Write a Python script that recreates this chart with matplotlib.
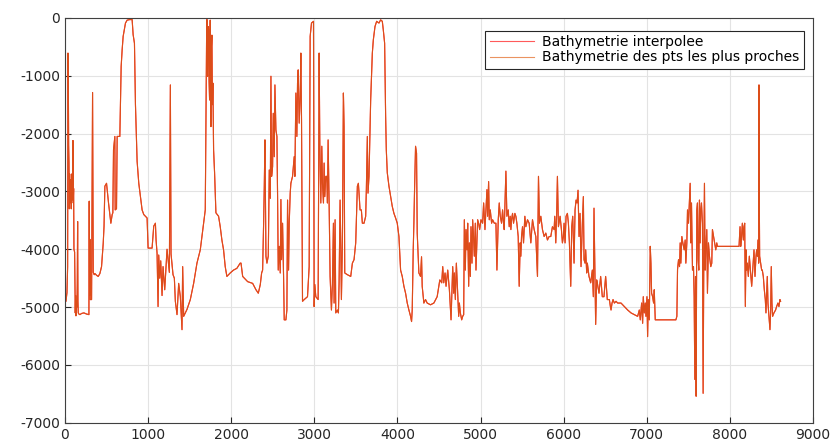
import numpy as np
import matplotlib.pyplot as plt

plt.rcParams['axes.unicode_minus'] = False

# distance le long du profil (km) et profondeur (m)
dist = [0, 12, 24, 32, 36, 40, 44, 48, 52, 56, 60, 64, 68, 72, 76, 80, 84, 88, 92, 96,
        100, 104, 108, 116, 124, 128, 132, 140, 144, 148, 152, 156, 160, 168, 180, 200, 228, 260, 288, 292,
        296, 300, 304, 320, 328, 332, 336, 340, 352, 360, 380, 400, 420, 440, 460, 470, 480, 500, 512, 524,
        540, 552, 568, 576, 584, 600, 604, 620, 628, 660, 676, 688, 700, 728, 748, 780, 808, 820, 836, 848,
        868, 888, 928, 948, 988, 1000, 1048, 1068, 1088, 1096, 1108, 1120, 1128, 1140, 1152, 1168, 1180, 1200, 1220, 1228,
        1256, 1268, 1276, 1300, 1316, 1328, 1348, 1368, 1388, 1408, 1416, 1428, 1448, 1468, 1508, 1548, 1588, 1628, 1688, 1700,
        1704, 1708, 1712, 1716, 1722, 1728, 1734, 1740, 1744, 1748, 1752, 1756, 1762, 1768, 1774, 1780, 1788, 1800, 1816, 1848,
        1868, 1888, 1908, 1928, 1948, 1988, 2028, 2068, 2108,
        2118, 2138, 2198, 2258, 2298, 2326, 2350, 2366, 2378, 2390, 2398, 2406, 2418, 2430, 2446, 2458, 2470, 2478, 2486, 2498,
        2506, 2518, 2526, 2538, 2550, 2558, 2566, 2578, 2590, 2598, 2606, 2618, 2630, 2638, 2658, 2670, 2678, 2690, 2698, 2710,
        2718, 2738, 2758, 2766, 2778, 2790, 2798, 2806, 2818, 2830, 2838, 2846, 2858, 2878, 2918, 2938, 2950, 2966, 2990, 2998,
        3006, 3018, 3046, 3058, 3066, 3078, 3090, 3098, 3110, 3118, 3126, 3138, 3150, 3158, 3166, 3178, 3190, 3206, 3218, 3230,
        3238, 3250, 3258, 3278, 3290, 3298, 3310, 3318, 3326, 3338, 3350, 3358, 3366, 3398, 3438, 3458, 3478, 3498, 3510, 3518,
        3530, 3538, 3550, 3566, 3578, 3598, 3618, 3626, 3638, 3646, 3658, 3666, 3678, 3690, 3698, 3710, 3730, 3750, 3778, 3798,
        3818, 3830, 3846, 3858, 3866, 3878, 3898, 3918, 3938, 3958, 3978, 3998, 4018, 4038, 4058, 4078, 4098, 4118, 4138, 4158,
        4170, 4178, 4190, 4198, 4206, 4218, 4230, 4238, 4258, 4278, 4290, 4298, 4310, 4318, 4338, 4358, 4398, 4438, 4478, 4510,
        4533, 4545, 4557, 4573, 4585, 4605, 4625, 4645, 4665, 4677, 4685, 4697, 4709, 4725, 4737, 4745, 4757, 4773, 4785, 4797,
        4805, 4817, 4825, 4837, 4845, 4857, 4865, 4877, 4885, 4897, 4905, 4917, 4925, 4937, 4945, 4957, 4965, 4977, 4989, 5005,
        5025, 5037, 5053, 5065, 5077, 5085, 5097, 5105, 5117, 5133, 5145, 5165, 5185, 5197, 5213, 5225, 5237, 5253, 5265, 5277,
        5285, 5305, 5317, 5333, 5345, 5357, 5365, 5373, 5385, 5397, 5413, 5425, 5437, 5453, 5465, 5477, 5485, 5493, 5505, 5517,
        5533, 5545, 5565, 5585, 5605, 5625, 5645, 5665, 5685, 5697, 5709, 5725, 5745, 5765, 5785, 5805, 5825, 5845, 5865, 5885,
        5893, 5905, 5917, 5925, 5937, 5957, 5973, 5985, 5997, 6005, 6017, 6029, 6045, 6057, 6069, 6085, 6097, 6109, 6125, 6137,
        6149, 6161, 6173, 6185, 6197, 6209, 6225, 6237, 6245, 6257, 6265, 6277, 6285, 6305, 6325, 6345, 6357, 6365, 6377, 6385,
        6397, 6405, 6425, 6445, 6465, 6485, 6505, 6525,
        6550, 6562, 6570, 6582, 6594, 6610, 6630, 6650, 6690, 6730, 6770, 6810, 6850, 6890, 6910, 6922, 6938, 6950, 6958, 6970,
        6982, 6990, 7002, 7010, 7018, 7030, 7042, 7050, 7058, 7070, 7082, 7090, 7102, 7350, 7362, 7370, 7382, 7394, 7402, 7410,
        7422, 7434, 7450, 7462, 7470, 7482, 7490, 7502, 7510, 7522, 7530, 7538, 7550, 7562, 7570, 7578, 7586, 7594, 7602, 7610,
        7618, 7626, 7634, 7642, 7650, 7658, 7670, 7678, 7686, 7694, 7702, 7710, 7722, 7730, 7742, 7754, 7770, 7782, 7790, 7810,
        7830, 7842, 7850, 8110, 8122, 8130, 8138, 8150, 8162, 8170, 8178, 8186, 8194, 8202, 8210, 8222, 8234, 8250, 8262, 8274,
        8290, 8302, 8314, 8322, 8330, 8338, 8346, 8350, 8354, 8358, 8370, 8382, 8390, 8402, 8414, 8426, 8434, 8442, 8450, 8458,
        8470, 8482, 8490, 8498, 8506, 8514, 8530, 8550, 8562, 8578, 8590, 8602, 8610]

depth = [-4620, -4900, -4750, -4300, -610, -930, -2200, -2500, -3300, -2700, -3200, -2800, -3100, -2900, -3300, -2700, -3150, -2900, -3000, -2120,
         -3200, -2950, -4000, -4050, -5100, -4800, -5150, -4900, -5000, -4600, -3520, -4900, -5100, -5120, -5130, -5110, -5100, -5120, -5130, -3170,
         -4800, -3830, -4870, -4870, -2680, -1290, -2680, -4400, -4440, -4420, -4450, -4470, -4420, -4300, -3900, -3600, -2910, -2860, -3030, -3200,
         -3400, -3550, -3400, -3370, -2280, -2050, -3320, -3300, -2050, -2050, -840, -550, -320, -90, -40, -30, -30, -290, -440, -1500,
         -2480, -2860, -3320, -3400, -3460, -3980, -3980, -3600, -3550, -3840, -4070, -4990, -4100, -4500, -4200, -4800, -4300, -4700, -4200, -4000,
         -4400, -1160, -4080, -4440, -4500, -4900, -5130, -4590, -4820, -5390, -4300, -5160, -5100, -5040, -4870, -4590, -4240, -4010, -3320, -1010,
         -300, -30, -900, -1010, -150, -200, -1100, -1420, -300, -40, -1200, -1880, -500, -300, -1500, -1130, -2280, -2680, -3370, -3430,
         -3610, -3840, -4010, -4300, -4470, -4410, -4360, -4330, -4240,
         -4240, -4470, -4560, -4590, -4700, -4760, -4610, -4410, -4360, -3550, -2910, -2110, -4120, -4240, -4120, -2630, -3120, -1010, -2740, -2570,
         -1650, -2400, -1160, -1940, -2050, -3090, -4360, -3950, -4410, -3140, -4180, -3550, -4470, -5220, -5220, -5050, -3150, -4360, -3550, -3030,
         -2860, -2740, -2400, -2740, -1300, -2050, -1130, -900, -1820, -1360, -610, -1760, -4900, -4870, -4820, -4300, -320, -90, -60, -4990,
         -4610, -4820, -4870, -610, -2170, -3200, -2220, -2860, -3200, -2510, -3090, -2740, -2740, -3200, -2110, -3200, -4470, -5050, -4580, -3550,
         -4930, -3490, -5100, -5050, -5100, -4580, -3150, -3890, -4870, -3890, -1300, -1880, -4410, -4440, -4470, -4240, -4180, -3890, -3260, -2910,
         -2860, -3030, -3320, -3320, -3550, -3550, -3430, -2970, -2050, -3030, -2740, -2220, -1420, -900, -610, -380, -150, -60, -90, -35,
         -60, -210, -440, -1700, -2280, -2680, -2910, -3090, -3260, -3380, -3460, -3550, -3780, -4360, -4470, -4640, -4760, -4930, -5050, -5160,
         -5250, -5050, -4010, -3550, -2970, -2220, -2340, -3720, -4410, -4470, -4130, -4640, -4820, -4930, -4870, -4930, -4960, -4930, -4820, -4530,
         -4580, -4300, -4580, -4410, -4640, -4360, -4700, -5220, -4300, -4760, -4410, -4870, -4240, -4760, -5160, -4930, -5100, -5220, -5160, -5130,
         -3490, -4360, -3660, -4010, -3550, -4640, -3890, -4470, -3610, -4240, -3490, -3830, -4120, -3550, -4360, -3830, -3490, -3550, -3660, -3490,
         -3550, -3200, -3660, -3320, -2970, -3430, -2830, -3490, -3320, -3550, -3490, -3550, -3550, -4360, -3490, -3200, -3430, -3550, -3320, -3550,
         -3660, -2650, -3430, -3320, -3610, -3430, -3660, -3490, -3380, -3550, -3380, -3430, -3550, -3780, -4640, -3890, -4120, -3780, -3610, -3890,
         -3430, -3610, -3490, -3550, -3890, -3490, -3660, -3780, -4470, -2740, -3550, -3430, -3660, -3780, -3720, -3840, -3780, -3780, -3610, -3660,
         -3430, -3890, -3320, -2740, -3610, -3430, -3660, -3890, -3780, -3550, -3890, -3430, -3380, -3550, -3890, -4640, -3610, -3430, -4240, -3320,
         -3150, -3200, -2980, -3780, -3380, -4300, -3550, -3090, -4180, -4240, -4010, -4410, -4240, -4470, -4580, -4360, -4820, -3290, -4530, -5300,
         -4530, -4580, -4760, -4470, -4820, -4820, -4470, -4870,
         -4870, -4990, -5050, -4930, -4870, -4930, -4900, -4930, -4930, -4990, -5050, -5100, -5130, -5160, -5050, -5220, -4930, -5280, -4820, -5100,
         -4930, -5160, -4820, -5510, -4870, -5220, -3950, -4240, -4760, -4820, -4930, -4700, -5220, -5220, -5160, -4350, -4180, -4300, -3890, -4240,
         -3780, -3890, -4010, -3840, -4240, -3890, -3320, -3550, -3260, -2860, -3890, -3200, -4360, -4300, -4820, -6250, -4470, -6540, -3320, -3200,
         -4180, -4360, -3150, -3890, -3320, -3200, -3550, -6490, -4180, -2860, -4360, -4010, -3660, -4760, -3890, -4120, -4300, -4240, -3660, -3840,
         -4010, -3890, -3950, -3950, -3610, -3950, -3840, -3550, -3840, -3610, -3550, -4990, -4010, -4360, -4240, -4470, -4120, -4410, -4640, -4360,
         -4010, -4470, -4120, -4010, -4120, -3840, -4240, -1160, -3140, -4120, -4240, -4360, -4360, -4470, -4700, -4870, -5100, -4760, -4470, -4930,
         -5160, -5390, -5100, -4300, -4930, -5160, -5100, -5050, -4990, -4930, -4990, -4870, -4900]

# la bathymetrie interpolee se superpose presque partout a celle des points les plus proches
depth_interp = depth

fig = plt.figure(figsize=(8.33, 4.46), dpi=100)
ax = fig.add_axes([0.078, 0.052, 0.898, 0.908])

ax.plot(dist, depth_interp, color='#ff2020', lw=0.8, label='Bathymetrie interpolee')
ax.plot(dist, depth, color='#d95319', lw=0.8, alpha=0.9, label='Bathymetrie des pts les plus proches')

ax.set_xlim(0, 9000)
ax.set_ylim(-7000, 0)
ax.set_xticks(np.arange(0, 9001, 1000))
ax.set_yticks(np.arange(-7000, 1, 1000))
ax.grid(True, color='#e3e3e3', lw=0.8)
ax.set_axisbelow(True)
ax.tick_params(direction='in', length=4, labelsize=10, colors='#262626', width=0.8)
for s in ax.spines.values():
    s.set_color('#404040')
    s.set_linewidth(0.8)

leg = ax.legend(loc='upper right', fontsize=10, frameon=True, fancybox=False,
                borderpad=0.3, labelspacing=0.1, handlelength=3.2, handletextpad=0.6,
                bbox_to_anchor=(0.997, 0.985))
leg.get_frame().set_edgecolor('#262626')
leg.get_frame().set_linewidth(0.8)
leg.get_frame().set_alpha(1)
leg.get_lines()[0].set_color('#ff5a5a')
leg.get_lines()[1].set_color('#e8874f')

fig.savefig('out.png', dpi=100)
